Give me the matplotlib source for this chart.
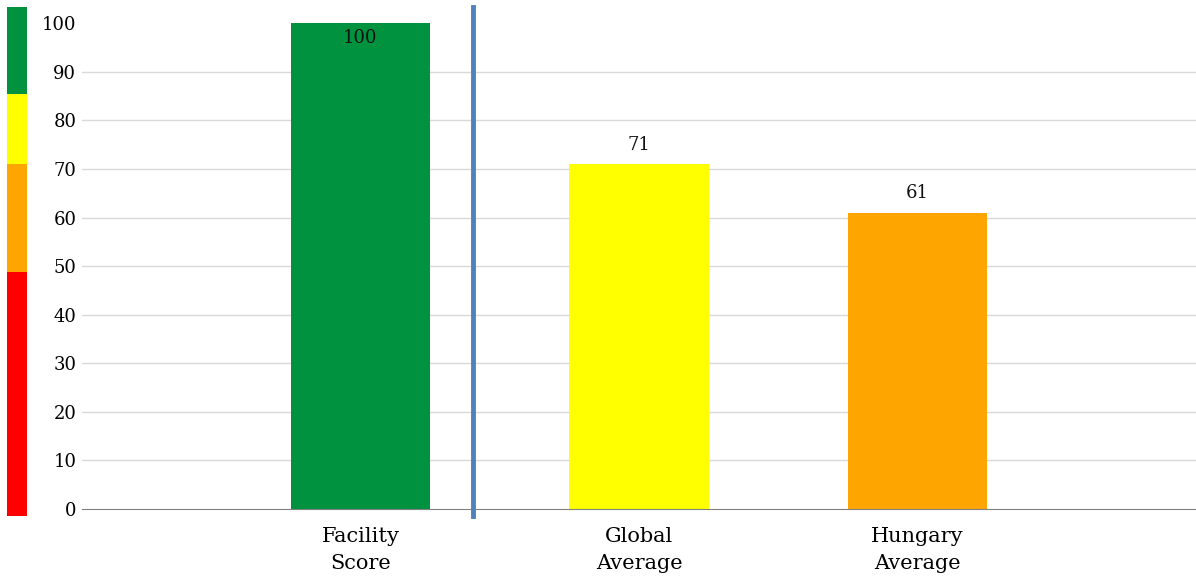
import matplotlib.pyplot as plt

# chart data
categories = ['Facility\nScore', 'Global\nAverage', 'Hungary\nAverage']
scores = [100, 71, 61]
bar_colours = ['#00923F', '#FFFF00', '#FFA500']

# colour scale on the left (segment heights, bottom to top)
scale_sizes = [47.9, 21.3, 13.7, 17.1]
scale_colours = ['#FF0000', '#FFA500', '#FFFF00', '#00923F']

plt.rcParams['font.family'] = 'DejaVu Serif'

fig = plt.figure(figsize=(11.96, 5.8), dpi=100)

# main bar chart
ax = fig.add_axes([0.0685, 0.1224, 0.9315, 0.8376])
x = list(range(len(categories)))
ax.bar(x, scores, width=0.5, color=bar_colours, zorder=2)

for xi, v in zip(x, scores):
    if v >= 100:
        ax.text(xi, v - 3, str(v), ha='center', va='center', fontsize=13, color='#111111')
    else:
        ax.text(xi, v + 4, str(v), ha='center', va='center', fontsize=13, color='#111111')

ax.set_xlim(-1, 3)
ax.set_ylim(0, 100)
ax.set_yticks(range(0, 101, 10))
ax.set_xticks(x)
ax.set_xticklabels(categories, fontsize=15, linespacing=1.55)
ax.tick_params(axis='y', labelsize=13, length=0, pad=4)
ax.tick_params(axis='x', length=0, pad=13)

for yv in range(10, 100, 10):
    ax.axhline(yv, color='#D9D9D9', linewidth=1, zorder=1)

for side in ['top', 'right', 'left']:
    ax.spines[side].set_visible(False)
ax.spines['bottom'].set_color('#808080')

# separator between facility and the averages
ax.axvline(0.405, ymin=-0.0144, ymax=1.033, color='#4F81BD', linewidth=3.5, clip_on=False, zorder=3)

# colour scale strip
cax = fig.add_axes([0.00585, 0.110, 0.0167, 0.878])
bottom = 0
for size, c in zip(scale_sizes, scale_colours):
    cax.bar(0, size, bottom=bottom, width=1, color=c)
    bottom += size
cax.set_xlim(-0.5, 0.5)
cax.set_ylim(0, 100)
cax.axis('off')

plt.savefig('out.png', dpi=100)
